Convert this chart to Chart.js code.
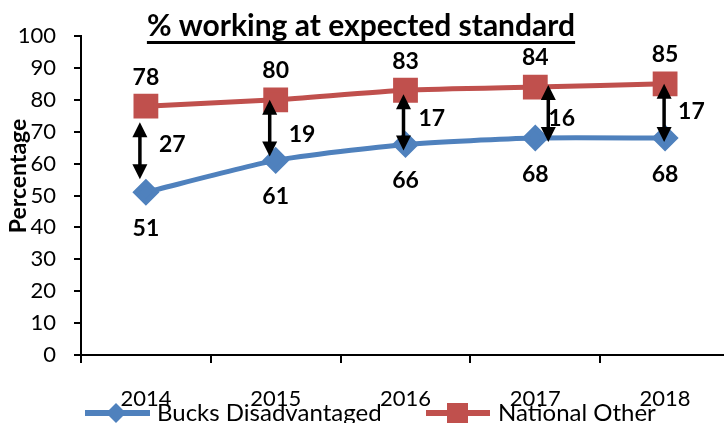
<!DOCTYPE html>
<html>
<head>
<meta charset="utf-8">
<script src="https://cdn.jsdelivr.net/npm/chart.js@4/dist/chart.umd.min.js"></script>
<style>
  html, body { margin: 0; padding: 0; background: #fff; overflow: hidden; }
  #wrap { position: relative; width: 749px; height: 423px; }
</style>
</head>
<body>
<div id="wrap"><canvas id="grafico" width="749" height="423"></canvas></div>
<script>
const anos = ['2014', '2015', '2016', '2017', '2018'];
const bucksDisadvantaged = [51, 61, 66, 68, 68];
const nationalOther = [78, 80, 83, 84, 85];
const yTicks = [0, 10, 20, 30, 40, 50, 60, 70, 80, 90, 100];

const azul = '#4F81BD';
const vermelho = '#C0504D';
const fonte = 'Lato, "Open Sans", sans-serif';

// small hand-tuned nudges for the gap arrows (pixels)
const setaDx = [-6, -6, -2, 13, -1];
const setaTopo = [16, 0, 4, -2, 0];
const setaBase = [13, 4, -6, -4, -4];
const rotuloDy = [-6, 6, -4, 5, -1];

function seta(ctx, x, y1, y2) {
  const h = 15, w = 7.5;
  ctx.save();
  ctx.strokeStyle = '#000';
  ctx.fillStyle = '#000';
  ctx.lineWidth = 3.5;
  ctx.beginPath();
  ctx.moveTo(x, y1 + h - 2);
  ctx.lineTo(x, y2 - h + 2);
  ctx.stroke();
  ctx.beginPath();
  ctx.moveTo(x, y1);
  ctx.lineTo(x - w, y1 + h);
  ctx.lineTo(x + w, y1 + h);
  ctx.closePath();
  ctx.fill();
  ctx.beginPath();
  ctx.moveTo(x, y2);
  ctx.lineTo(x - w, y2 - h);
  ctx.lineTo(x + w, y2 - h);
  ctx.closePath();
  ctx.fill();
  ctx.restore();
}

const extras = {
  id: 'extras',
  afterDraw(chart) {
    const ctx = chart.ctx;
    const xs = chart.scales.x, ys = chart.scales.y;

    // title
    ctx.save();
    ctx.font = 'bold 30px ' + fonte;
    ctx.fillStyle = '#000';
    ctx.textAlign = 'center';
    ctx.textBaseline = 'alphabetic';
    const titulo = '% working at expected standard';
    const tx = 361, ty = 36;
    ctx.fillText(titulo, tx, ty);
    const tw = ctx.measureText(titulo).width;
    ctx.fillRect(tx - tw / 2, 41, tw, 3);

    // value labels
    ctx.textBaseline = 'middle';
    ctx.font = 'bold 23px ' + fonte;
    anos.forEach((a, i) => {
      const x = xs.getPixelForValue(i);
      ctx.fillText(String(nationalOther[i]), x, ys.getPixelForValue(nationalOther[i]) - 29);
      ctx.fillText(String(bucksDisadvantaged[i]), x, ys.getPixelForValue(bucksDisadvantaged[i]) + 36);
    });

    // gap arrows
    ctx.textAlign = 'left';
    anos.forEach((a, i) => {
      const cx = xs.getPixelForValue(i);
      const x = cx + setaDx[i];
      const y1 = ys.getPixelForValue(nationalOther[i]) + setaTopo[i];
      const y2 = ys.getPixelForValue(bucksDisadvantaged[i]) - setaBase[i];
      seta(ctx, x, y1, y2);
      ctx.fillText(String(nationalOther[i] - bucksDisadvantaged[i]), cx + 13, (y1 + y2) / 2 + rotuloDy[i]);
    });

    // legend
    ctx.font = '24px ' + fonte;
    ctx.textBaseline = 'alphabetic';
    const ly = 413;
    ctx.lineWidth = 6;
    ctx.strokeStyle = azul;
    ctx.beginPath(); ctx.moveTo(85, ly); ctx.lineTo(150, ly); ctx.stroke();
    ctx.fillStyle = azul;
    ctx.beginPath();
    ctx.moveTo(116, ly - 10); ctx.lineTo(126, ly); ctx.lineTo(116, ly + 10); ctx.lineTo(106, ly);
    ctx.closePath(); ctx.fill();
    ctx.fillStyle = '#000';
    ctx.fillText('Bucks Disadvantaged', 157, 421);
    ctx.strokeStyle = vermelho;
    ctx.beginPath(); ctx.moveTo(426, ly); ctx.lineTo(490, ly); ctx.stroke();
    ctx.fillStyle = vermelho;
    ctx.fillRect(447, ly - 10, 21, 21);
    ctx.fillStyle = '#000';
    ctx.fillText('National Other', 498, 421);

    // axis title
    ctx.translate(19, 176);
    ctx.rotate(-Math.PI / 2);
    ctx.textAlign = 'center';
    ctx.textBaseline = 'middle';
    ctx.font = 'bold 23px ' + fonte;
    ctx.fillText('Percentage', 0, 0);
    ctx.restore();
  }
};

new Chart(document.getElementById('grafico').getContext('2d'), {
  type: 'line',
  data: {
    labels: anos,
    datasets: [{
      label: 'Bucks Disadvantaged',
      data: bucksDisadvantaged,
      borderColor: azul,
      backgroundColor: azul,
      borderWidth: 5,
      pointStyle: 'rectRot',
      pointRadius: 10,
      pointHoverRadius: 10,
      tension: 0.2
    }, {
      label: 'National Other',
      data: nationalOther,
      borderColor: vermelho,
      backgroundColor: vermelho,
      borderWidth: 5,
      pointStyle: 'rect',
      pointRadius: 14,
      pointHoverRadius: 14,
      tension: 0.2
    }]
  },
  options: {
    responsive: false,
    animation: false,
    layout: { padding: { top: 36, right: 4, left: 2, bottom: 0 } },
    plugins: {
      legend: { display: false },
      tooltip: { enabled: false }
    },
    scales: {
      x: {
        offset: true,
        grid: { display: true, offset: true, drawOnChartArea: false, color: '#000', tickLength: 8, lineWidth: 2 },
        border: { color: '#000', width: 2 },
        ticks: { color: '#000', font: { family: fonte, size: 22 }, padding: 23, maxRotation: 0 },
        afterFit(s) { s.height = 68; }
      },
      y: {
        min: 0,
        max: 100,
        afterBuildTicks(s) { s.ticks = yTicks.map(v => ({ value: v })); },
        grid: { display: true, drawOnChartArea: false, color: '#000', tickLength: 7, lineWidth: 2 },
        border: { color: '#000', width: 2 },
        ticks: { color: '#000', font: { family: fonte, size: 22 }, padding: 18 },
        afterFit(s) { s.width = 79; }
      }
    }
  },
  plugins: [extras]
});
</script>
</body>
</html>
